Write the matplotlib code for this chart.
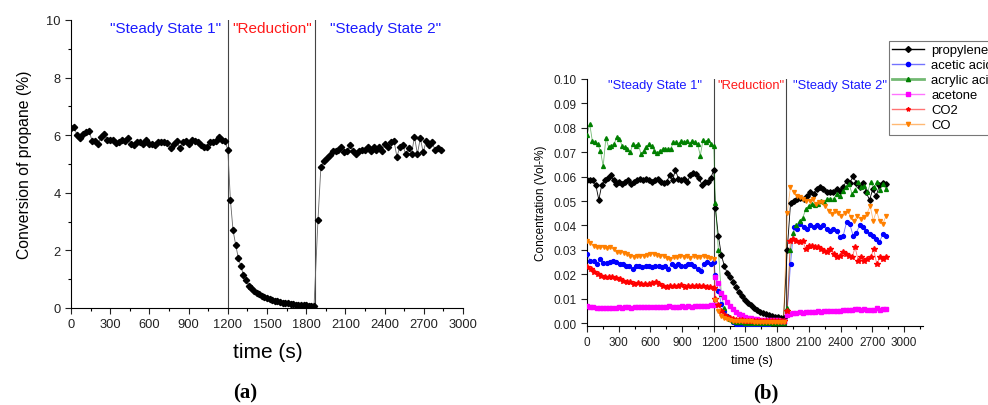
import numpy as np
import matplotlib
matplotlib.use('Agg')
import matplotlib.pyplot as plt
from matplotlib.lines import Line2D
from matplotlib.ticker import MultipleLocator

plt.rcParams['font.family'] = ['Liberation Sans', 'DejaVu Sans']

# ---------------- data: panel (a) propane conversion ----------------
conv_ss1 = [6.25, 6.3, 6.0, 5.9, 6.05, 6.1, 6.15, 5.8, 5.8, 5.7, 5.95, 6.05, 5.85, 5.85, 5.85,
            5.72, 5.75, 5.85, 5.8, 5.9, 5.68, 5.65, 5.75, 5.75, 5.7, 5.82, 5.7, 5.68, 5.65, 5.78,
            5.75, 5.75, 5.72, 5.55, 5.68, 5.8, 5.55, 5.75, 5.8, 5.7, 5.85, 5.8, 5.78, 5.65, 5.6,
            5.6, 5.75, 5.75, 5.8, 5.95, 5.85, 5.8, 5.5]
conv_red = [3.75, 2.7, 2.2, 1.75, 1.45, 1.15, 0.98, 0.78, 0.7, 0.6, 0.52, 0.47, 0.43, 0.38,
            0.35, 0.31, 0.28, 0.25, 0.23, 0.21, 0.19, 0.17, 0.16, 0.14, 0.13, 0.12, 0.11, 0.1,
            0.09, 0.09, 0.08, 0.08, 0.07]
conv_ss2 = [3.05, 4.9, 5.1, 5.2, 5.3, 5.45, 5.45, 5.5, 5.6, 5.4, 5.45, 5.65, 5.45, 5.35, 5.45,
            5.5, 5.5, 5.6, 5.45, 5.6, 5.5, 5.6, 5.45, 5.7, 5.6, 5.75, 5.8, 5.25, 5.6, 5.65, 5.35,
            5.55, 5.35, 5.95, 5.35, 5.9, 5.4, 5.8, 5.65, 5.75, 5.5, 5.55, 5.5]
phase_a = [1200, 1870]

# ---------------- data: panel (b) concentrations ----------------
series_names = ['propylene', 'acetic acid', 'acrylic acid', 'acetone', 'CO2', 'CO']
series_colors = ['#000000', '#0000ff', '#008000', '#ff00ff', '#ff0000', '#ff8000']
series_markers = ['D', 'o', '^', 's', '*', 'v']

propylene_ss1 = [0.0585, 0.0585, 0.0585, 0.0565, 0.0505, 0.0565, 0.0585, 0.0595, 0.0605, 0.0585,
                 0.0570, 0.0578, 0.0570, 0.0578, 0.0585, 0.0570, 0.0578, 0.0585, 0.0592, 0.0585,
                 0.0590, 0.0585, 0.0578, 0.0585, 0.0590, 0.0578, 0.0575, 0.0578, 0.0605, 0.0585,
                 0.0628, 0.0590, 0.0585, 0.0590, 0.0578, 0.0605, 0.0615, 0.0610, 0.0595, 0.0565,
                 0.0578, 0.0578, 0.0595, 0.0628]
propylene_red = [0.047, 0.0358, 0.028, 0.0235, 0.0205, 0.019, 0.017, 0.0147, 0.0126, 0.011,
                 0.0095, 0.0082, 0.0072, 0.0062, 0.0055, 0.0047, 0.0041, 0.0036, 0.0032, 0.0028,
                 0.0025, 0.0023, 0.0021, 0.0019]
propylene_ss2 = [0.030, 0.049, 0.050, 0.0508, 0.0512, 0.0508, 0.0521, 0.0535, 0.053, 0.055,
                 0.0557, 0.055, 0.0535, 0.0538, 0.0535, 0.055, 0.0543, 0.0557, 0.0583, 0.0575,
                 0.0601, 0.0575, 0.0557, 0.0575, 0.0535, 0.0504, 0.055, 0.052, 0.0565, 0.0575,
                 0.0568]

acetic_ss1 = [0.0283, 0.0255, 0.0255, 0.0242, 0.0262, 0.0245, 0.0245, 0.0249, 0.0255, 0.0249,
              0.0242, 0.0242, 0.0235, 0.0235, 0.0221, 0.0235, 0.0235, 0.0228, 0.0235, 0.0235,
              0.0228, 0.0235, 0.0235, 0.0228, 0.0235, 0.0221, 0.0242, 0.0235, 0.0242, 0.0235,
              0.0235, 0.0242, 0.0242, 0.0235, 0.0221, 0.0214, 0.0242, 0.0249, 0.0242, 0.0250]
acetic_red = [0.0195, 0.013, 0.008, 0.005, 0.003, 0.0015, 0.0005, -0.0003, -0.0005, -0.0005,
              -0.0004, -0.0004, -0.0003, -0.0003, -0.0003, -0.0002, -0.0002, -0.0002, -0.0002,
              -0.0001, -0.0001, -0.0001, -0.0001, -0.0001]
acetic_ss2 = [0.005, 0.024, 0.0392, 0.0385, 0.0406, 0.0392, 0.0385, 0.040, 0.0392, 0.040,
              0.0392, 0.040, 0.0385, 0.0378, 0.0385, 0.0378, 0.0351, 0.0358, 0.0413, 0.0406,
              0.0358, 0.0371, 0.040, 0.0392, 0.0378, 0.0365, 0.0358, 0.0344, 0.0331, 0.0365,
              0.0358]

acrylic_ss1 = [0.0771, 0.0816, 0.0745, 0.0740, 0.0733, 0.0705, 0.0642, 0.0760, 0.0720, 0.0727,
               0.0733, 0.0761, 0.0755, 0.0727, 0.0720, 0.0713, 0.0699, 0.0733, 0.0727, 0.0733,
               0.0693, 0.0705, 0.0720, 0.0733, 0.0727, 0.0705, 0.0697, 0.0705, 0.0713, 0.0713,
               0.0713, 0.0713, 0.0740, 0.0740, 0.0733, 0.0747, 0.0740, 0.0747, 0.0733, 0.0747,
               0.0740, 0.0733, 0.0686, 0.0750, 0.0740, 0.0750, 0.0733, 0.0727]
acrylic_red = [0.049, 0.030, 0.012, 0.006, 0.003, 0.0018, 0.001, 0.0006, 0.0004, 0.0003,
               0.0002, 0.0002, 0.0001, 0.0001, 0.0001, 0.0001, 0.0, 0.0, 0.0, 0.0, 0.0, 0.0,
               0.0, 0.0]
acrylic_ss2 = [0.006, 0.030, 0.037, 0.040, 0.042, 0.043, 0.0467, 0.0481, 0.0488, 0.0485,
               0.0488, 0.0501, 0.0495, 0.0508, 0.051, 0.0508, 0.0529, 0.052, 0.0542, 0.0556,
               0.057, 0.053, 0.0545, 0.0576, 0.0556, 0.056, 0.0535, 0.0576, 0.0556, 0.0576,
               0.0545, 0.057, 0.055]

acetone_ss1 = [0.0068, 0.0066, 0.0065, 0.0063, 0.0060, 0.0062, 0.0063, 0.0062, 0.0063, 0.0063,
               0.0064, 0.0063, 0.0064, 0.0064, 0.0063, 0.0064, 0.0064, 0.0065, 0.0064, 0.0065,
               0.0065, 0.0066, 0.0065, 0.0066, 0.0066, 0.0065, 0.0068, 0.0066, 0.0067, 0.0066,
               0.0068, 0.0067, 0.0068, 0.0067, 0.0068, 0.0069, 0.0068, 0.0070, 0.0069, 0.0072,
               0.0074]
acetone_red = [0.019, 0.0165, 0.0125, 0.0105, 0.0085, 0.007, 0.0056, 0.0046, 0.0038, 0.0031,
               0.0026, 0.0022, 0.0019, 0.0016, 0.0015, 0.0014, 0.0013, 0.0012, 0.0012, 0.0011,
               0.0011, 0.0011, 0.001, 0.001]
acetone_ss2 = [0.0035, 0.0037, 0.0040, 0.0042, 0.0044, 0.0043, 0.0045, 0.0046, 0.0046, 0.0047,
               0.0048, 0.0047, 0.0049, 0.0050, 0.0049, 0.0050, 0.0051, 0.0050, 0.0052, 0.0053,
               0.0052, 0.0055, 0.0058, 0.0056, 0.0054, 0.0057, 0.0055, 0.0052, 0.0055, 0.0060,
               0.0054, 0.0056, 0.0058]

co2_ss1 = [0.0228, 0.0222, 0.0209, 0.0202, 0.0194, 0.0187, 0.0187, 0.0187, 0.0183, 0.0180,
           0.0173, 0.0167, 0.0167, 0.0160, 0.0163, 0.0160, 0.0160, 0.0160, 0.0163, 0.0167,
           0.0160, 0.0153, 0.0146, 0.0150, 0.0153, 0.0150, 0.0155, 0.0146, 0.0150, 0.0150,
           0.0153, 0.0150, 0.0150, 0.0146, 0.0146, 0.0142]
co2_red = [0.010, 0.0075, 0.005, 0.0035, 0.0025, 0.002, 0.0016, 0.0013, 0.0012, 0.0011, 0.001,
           0.001, 0.0009, 0.0009, 0.0009, 0.0008, 0.0008, 0.0008, 0.0008, 0.0008, 0.0007,
           0.0007, 0.0007, 0.0007]
co2_ss2 = [0.005, 0.0337, 0.0344, 0.0337, 0.0331, 0.0337, 0.0303, 0.0317, 0.0317, 0.0310,
           0.0310, 0.0303, 0.0297, 0.0290, 0.0303, 0.0283, 0.0269, 0.0276, 0.0290, 0.0283,
           0.0276, 0.0269, 0.0310, 0.0255, 0.0269, 0.0255, 0.0262, 0.0269, 0.0303, 0.0242,
           0.0269, 0.0262, 0.0272]

co_ss1 = [0.0337, 0.0330, 0.0317, 0.0310, 0.0310, 0.0310, 0.0306, 0.0310, 0.0303, 0.0292,
          0.0290, 0.0287, 0.0283, 0.0276, 0.0269, 0.0276, 0.0273, 0.0276, 0.0280, 0.0283,
          0.0283, 0.0280, 0.0276, 0.0273, 0.0265, 0.0262, 0.0269, 0.0269, 0.0276, 0.0269,
          0.0276, 0.0265, 0.0276, 0.0269, 0.0269, 0.0276, 0.0269, 0.0265, 0.0262]
co_red = [0.0095, 0.005, 0.003, 0.002, 0.0015, 0.0012, 0.001, 0.0009, 0.0008, 0.0008, 0.0007,
          0.0007, 0.0007, 0.0006, 0.0006, 0.0006, 0.0006, 0.0006, 0.0006, 0.0005, 0.0005,
          0.0005, 0.0005, 0.0005]
co_ss2 = [0.045, 0.0556, 0.0535, 0.0522, 0.0515, 0.0508, 0.0501, 0.0501, 0.0508, 0.0488,
          0.0495, 0.0495, 0.0481, 0.0460, 0.0447, 0.0460, 0.0452, 0.0440, 0.0452, 0.0460,
          0.0433, 0.0419, 0.0440, 0.0426, 0.0433, 0.0447, 0.0481, 0.0419, 0.0460, 0.0419,
          0.0406, 0.0440]
phase_b = [1200, 1888]

segments = [
    (propylene_ss1, propylene_red, propylene_ss2),
    (acetic_ss1, acetic_red, acetic_ss2),
    (acrylic_ss1, acrylic_red, acrylic_ss2),
    (acetone_ss1, acetone_red, acetone_ss2),
    (co2_ss1, co2_red, co2_ss2),
    (co_ss1, co_red, co_ss2),
]

# ---------------- figure ----------------
W, H = 988, 406
fig = plt.figure(figsize=(W / 100, H / 100), dpi=100)

def style_axes(ax, fs):
    for s in ['top', 'right']:
        ax.spines[s].set_visible(False)
    for s in ['left', 'bottom']:
        ax.spines[s].set_linewidth(0.8)
    ax.tick_params(which='major', direction='out', length=4, width=0.8, labelsize=fs,
                   colors='#222222')
    ax.tick_params(which='minor', direction='out', length=2, width=0.8)

# ----- panel (a) -----
axA = fig.add_axes([71 / W, 1 - 309 / H, 392 / W, 288 / H])
tA = np.concatenate([np.linspace(0, 1200, len(conv_ss1)),
                     np.linspace(1220, 1860, len(conv_red)),
                     np.linspace(1890, 2830, len(conv_ss2))])
yA = np.concatenate([conv_ss1, conv_red, conv_ss2])
axA.plot(tA, yA, color='#666666', lw=0.6, zorder=2)
axA.plot(tA, yA, ls='none', marker='D', ms=3.2, color='black', zorder=3)
for x in phase_a:
    axA.axvline(x, color='#444444', lw=0.8, zorder=1)
axA.set_xlim(0, 3000)
axA.set_ylim(0, 10)
axA.xaxis.set_major_locator(MultipleLocator(300))
axA.xaxis.set_minor_locator(MultipleLocator(150))
axA.yaxis.set_major_locator(MultipleLocator(2))
axA.yaxis.set_minor_locator(MultipleLocator(1))
style_axes(axA, 9.3)
axA.set_ylabel('Conversion of propane (%)', fontsize=11.3, labelpad=10)
axA.text(720, 9.72, '"Steady State 1"', color='#1a1aff', fontsize=11, ha='center', va='center')
axA.text(1537, 9.72, '"Reduction"', color='#ff1a1a', fontsize=11, ha='center', va='center')
axA.text(2410, 9.72, '"Steady State 2"', color='#1a1aff', fontsize=11, ha='center', va='center')
fig.text(268 / W, 1 - 352 / H, 'time (s)', fontsize=15, ha='center', va='center')
fig.text(245 / W, 1 - 393 / H, '(a)', fontsize=15, fontweight='bold', ha='center', va='center',
         family=['Liberation Serif', 'DejaVu Serif'])

# ----- panel (b) -----
axB = fig.add_axes([587 / W, 1 - 326.5 / H, 336 / W, 246.5 / H])
handles = []
for name, col, mk, (s1, rd, s2) in zip(series_names, series_colors, series_markers, segments):
    t = np.concatenate([np.linspace(0, 1200, len(s1)),
                        np.linspace(1215, 1860, len(rd)),
                        np.linspace(1895, 2830, len(s2))])
    v = np.concatenate([s1, rd, s2])
    la = 1.0 if name == 'propylene' else 0.55
    axB.plot(t, v, color=col, lw=0.6, alpha=la, zorder=2)
    ms = 4.2 if mk == '*' else 2.8
    axB.plot(t, v, ls='none', marker=mk, ms=ms, color=col, mec=col, zorder=3)
    lcol = col if name == 'propylene' else matplotlib.colors.to_rgba(col, 0.55)
    handles.append(Line2D([0], [0], color=lcol, lw=1.0 if name != 'acrylic acid' else 2.0,
                          marker=mk, ms=3, mfc=col, mec=col))
for x in phase_b:
    axB.axvline(x, color='#444444', lw=0.8, zorder=1)
axB.set_xlim(0, 3180)
axB.set_ylim(-0.001, 0.10)
axB.xaxis.set_major_locator(MultipleLocator(300))
axB.xaxis.set_minor_locator(MultipleLocator(150))
axB.set_yticks(np.arange(0, 0.1001, 0.01))
axB.set_yticklabels([f'{v:.2f}' for v in np.arange(0, 0.1001, 0.01)])
style_axes(axB, 8.5)
axB.set_ylabel('Concentration (Vol-%)', fontsize=8.5, labelpad=5)
axB.text(645, 0.0975, '"Steady State 1"', color='#1a1aff', fontsize=9.3, ha='center', va='center')
axB.text(1548, 0.0975, '"Reduction"', color='#ff1a1a', fontsize=9.3, ha='center', va='center')
axB.text(2390, 0.0975, '"Steady State 2"', color='#1a1aff', fontsize=9.3, ha='center', va='center')
fig.text(752 / W, 1 - 361 / H, 'time (s)', fontsize=9, ha='center', va='center')
fig.text(766 / W, 1 - 393 / H, '(b)', fontsize=15, fontweight='bold', ha='center', va='center',
         family=['Liberation Serif', 'DejaVu Serif'])

# legend (partially outside the figure, as in the reference)
leg = fig.legend(handles, series_names, loc='upper left', bbox_to_anchor=(889 / W, 1 - 42 / H),
                 fontsize=9.4, frameon=True, fancybox=False, edgecolor='#555555',
                 borderaxespad=0, borderpad=0.25, handlelength=2.4, handletextpad=0.6,
                 labelspacing=0.22, numpoints=1)
leg.get_frame().set_linewidth(0.8)

fig.savefig('out.png', dpi=100)
